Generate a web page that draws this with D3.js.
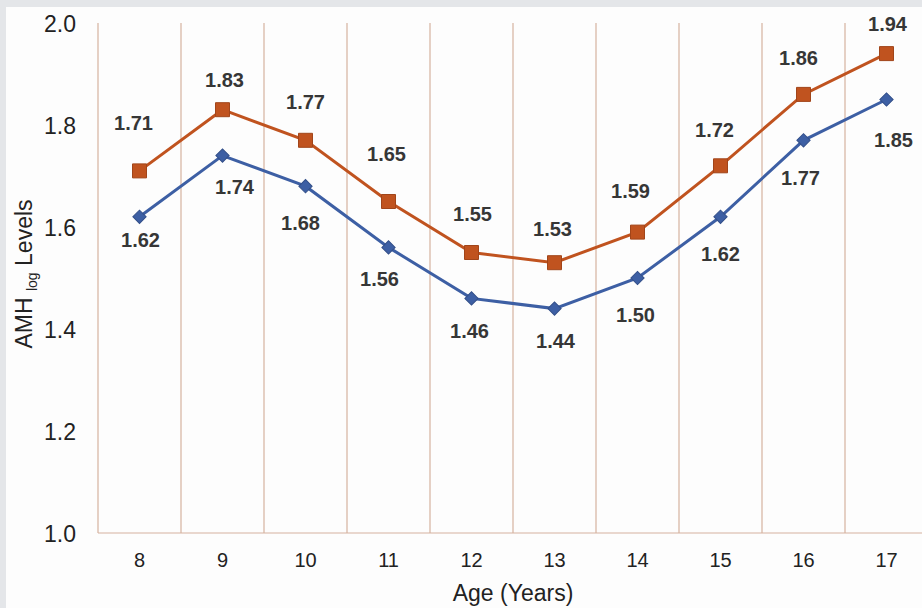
<!DOCTYPE html>
<html>
<head>
<meta charset="utf-8">
<script src="https://cdn.jsdelivr.net/npm/d3@7"></script>
<style>
  body { margin: 0; background: #e4e6e9; }
  text { font-family: "Liberation Sans", Arial, sans-serif; }
</style>
</head>
<body>
<div id="chart"></div>
<script>
// chart values
var ages = [8, 9, 10, 11, 12, 13, 14, 15, 16, 17];
var upperValues = [1.71, 1.83, 1.77, 1.65, 1.55, 1.53, 1.59, 1.72, 1.86, 1.94];
var lowerValues = [1.62, 1.74, 1.68, 1.56, 1.46, 1.44, 1.50, 1.62, 1.77, 1.85];
var yTicks = [1.0, 1.2, 1.4, 1.6, 1.8, 2.0];

// small nudges for the value labels (px, from the marker)
var upperLabelDx = [-6, 2, 0, -2, 1, -2, -7, -6, -5, 1];
var upperLabelDy = [-48, -30, -38, -48, -39, -34, -41, -36, -36, -30];
var lowerLabelDx = [1, 12, -5, -9, -2, 1, -2, 0, -3, 7];
var lowerLabelDy = [23, 31, 37, 32, 33, 32, 37, 37, 38, 40];

var svgWidth = 922;
var svgHeight = 608;

var svg = d3.select("#chart")
  .append("svg")
  .attr("width", svgWidth)
  .attr("height", svgHeight)
  .style("display", "block");

// white panel, grey strip left and top
svg.append("rect")
  .attr("x", 6)
  .attr("y", 7)
  .attr("width", svgWidth - 6)
  .attr("height", svgHeight - 7)
  .attr("fill", "#fdfdfd");

// scales
var xScale = d3.scaleBand()
  .domain(ages)
  .range([98, 928]);

var yScale = d3.scaleLinear()
  .domain([1.0, 2.0])
  .range([533, 23]);

var gridColor = "#d6b29f";

// vertical grid lines on the band edges
var edges = ages.map(function (a) { return xScale(a); });
edges.push(xScale(ages[ages.length - 1]) + xScale.bandwidth());

svg.append("g")
  .selectAll("line")
  .data(edges)
  .enter()
  .append("line")
  .attr("x1", d => d)
  .attr("x2", d => d)
  .attr("y1", yScale(2.0))
  .attr("y2", yScale(1.0))
  .attr("stroke", gridColor)
  .attr("stroke-width", 1.2);

// bottom axis
var bottomAxis = d3.axisBottom(xScale).tickSize(0).tickPadding(0);
var xAxisG = svg.append("g")
  .attr("transform", `translate(0, ${yScale(1.0)})`)
  .call(bottomAxis);
xAxisG.select(".domain")
  .attr("d", `M${xScale.range()[0]},0H${svgWidth}`)
  .attr("stroke", gridColor)
  .attr("stroke-width", 1.2);
xAxisG.selectAll("text")
  .attr("y", 27)
  .attr("dy", "0.35em")
  .attr("font-size", "20px")
  .attr("fill", "#222");

// left axis labels only
var leftAxis = d3.axisLeft(yScale)
  .tickValues(yTicks)
  .tickFormat(d3.format(".1f"))
  .tickSize(0)
  .tickPadding(0);
var yAxisG = svg.append("g")
  .attr("transform", "translate(76, 0)")
  .call(leftAxis);
yAxisG.select(".domain").remove();
yAxisG.selectAll("text")
  .attr("x", 0)
  .attr("dy", "0.35em")
  .attr("font-size", "23px")
  .attr("fill", "#222");

// axis titles
svg.append("text")
  .attr("x", 513)
  .attr("y", 601)
  .attr("text-anchor", "middle")
  .attr("font-size", "23px")
  .attr("fill", "#222")
  .text("Age (Years)");

var yTitle = svg.append("text")
  .attr("transform", "translate(32, 274) rotate(-90)")
  .attr("text-anchor", "middle")
  .attr("font-size", "23px")
  .attr("fill", "#222");
yTitle.append("tspan").text("AMH ");
yTitle.append("tspan").attr("font-size", "14px").attr("dy", 5).text("log");
yTitle.append("tspan").attr("dy", -5).text(" Levels");

// series
var cx = function (i) { return xScale(ages[i]) + xScale.bandwidth() / 2; };

function drawSeries(values, color, symbol, size, rot, dxs, dys) {
  var line = d3.line()
    .x((d, i) => cx(i))
    .y(d => yScale(d));

  svg.append("path")
    .datum(values)
    .attr("d", line)
    .attr("fill", "none")
    .attr("stroke", color)
    .attr("stroke-width", 3);

  svg.append("g")
    .selectAll("path")
    .data(values)
    .enter()
    .append("path")
    .attr("d", d3.symbol().type(symbol).size(size))
    .attr("transform", (d, i) => `translate(${cx(i)}, ${yScale(d)}) rotate(${rot})`)
    .attr("fill", color)
    .attr("stroke", d3.color(color).darker(0.5))
    .attr("stroke-width", 1);

  svg.append("g")
    .selectAll("text")
    .data(values)
    .enter()
    .append("text")
    .attr("x", (d, i) => cx(i) + dxs[i])
    .attr("y", (d, i) => yScale(d) + dys[i])
    .attr("text-anchor", "middle")
    .attr("dy", "0.35em")
    .attr("font-size", "20px")
    .attr("font-weight", "bold")
    .attr("fill", "#363636")
    .text(d => d3.format(".2f")(d));
}

drawSeries(upperValues, "#c0531f", d3.symbolSquare, 196, 0, upperLabelDx, upperLabelDy);
drawSeries(lowerValues, "#3d5fa4", d3.symbolSquare, 88, 45, lowerLabelDx, lowerLabelDy);
</script>
</body>
</html>
